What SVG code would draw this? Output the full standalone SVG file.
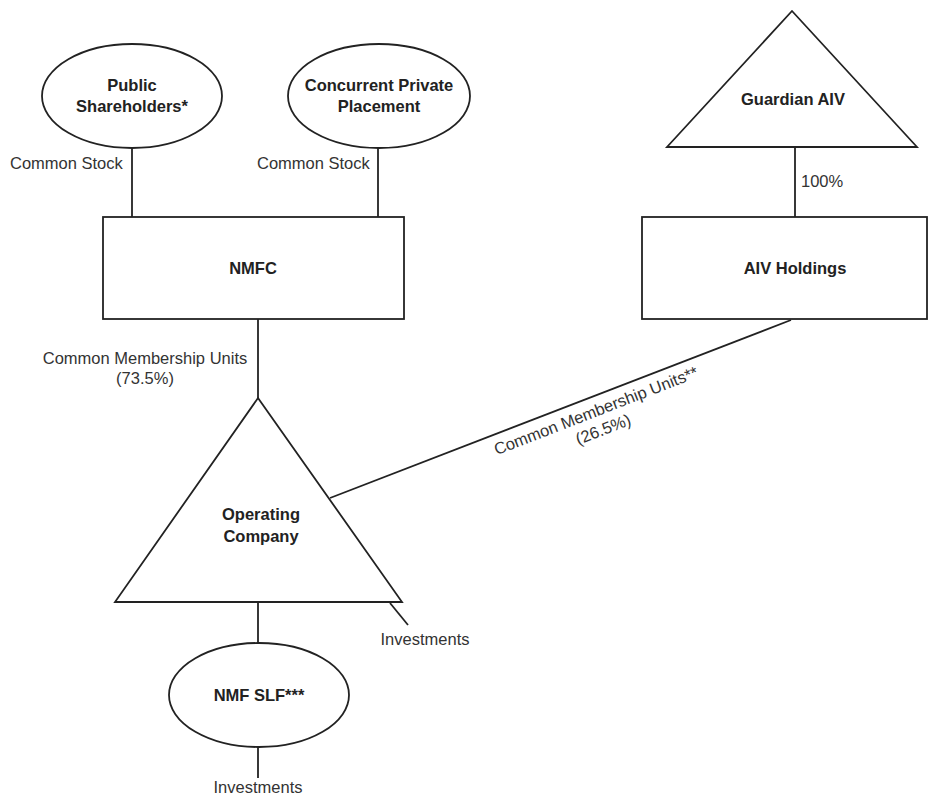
<svg xmlns="http://www.w3.org/2000/svg" width="933" height="795" viewBox="0 0 933 795">
<style>
.s{fill:#fff;stroke:#222;stroke-width:1.8}
.c{fill:none;stroke:#222;stroke-width:1.8}
.b{font-family:"Liberation Sans",Arial,sans-serif;font-weight:bold;font-size:16.5px;fill:#222;text-anchor:middle}
.t{font-family:"Liberation Sans",Arial,sans-serif;font-size:16.5px;fill:#333}
</style>
<rect width="933" height="795" fill="#fff"/>
<g id="connectors">
<line class="c" x1="132" y1="148" x2="132" y2="217"/>
<line class="c" x1="378" y1="148" x2="378" y2="217"/>
<line class="c" x1="795" y1="147" x2="795" y2="217"/>
<line class="c" x1="258" y1="319" x2="258" y2="398"/>
<line class="c" x1="791" y1="320" x2="330" y2="498"/>
<line class="c" x1="258" y1="602" x2="258" y2="643"/>
<line class="c" x1="390" y1="603" x2="408" y2="625"/>
<line class="c" x1="258" y1="747" x2="258" y2="778"/>
<text class="t" x="10" y="169">Common Stock</text>
<text class="t" x="257" y="169">Common Stock</text>
<text class="t" x="801" y="187">100%</text>
<text class="t" x="145" y="364" text-anchor="middle">Common Membership Units</text>
<text class="t" x="145" y="384" text-anchor="middle">(73.5%)</text>
<g transform="translate(598,416) rotate(-21.2)">
<text class="t" x="0" y="0" text-anchor="middle">Common Membership Units**</text>
<text class="t" x="0" y="20" text-anchor="middle">(26.5%)</text>
</g>
<text class="t" x="425" y="645" text-anchor="middle">Investments</text>
<text class="t" x="258" y="793" text-anchor="middle">Investments</text>
</g>
<g id="public">
<ellipse class="s" cx="132" cy="96" rx="90" ry="52"/>
<text class="b" x="132" y="91">Public</text>
<text class="b" x="132" y="112">Shareholders*</text>
</g>
<g id="private">
<ellipse class="s" cx="379" cy="96" rx="91" ry="52"/>
<text class="b" x="379" y="91">Concurrent Private</text>
<text class="b" x="379" y="112">Placement</text>
</g>
<g id="guardian">
<polygon class="s" points="792,11 917,147 667,147"/>
<text class="b" x="793" y="105">Guardian AIV</text>
</g>
<g id="nmfc">
<rect class="s" x="103" y="217" width="301" height="102"/>
<text class="b" x="253" y="274">NMFC</text>
</g>
<g id="aiv">
<rect class="s" x="642" y="217" width="285" height="102"/>
<text class="b" x="795" y="274">AIV Holdings</text>
</g>
<g id="opco">
<polygon class="s" points="258,398 402,602 115,602"/>
<text class="b" x="261" y="520">Operating</text>
<text class="b" x="261" y="542">Company</text>
</g>
<g id="slf">
<ellipse class="s" cx="259" cy="695" rx="90" ry="52"/>
<text class="b" x="259" y="701">NMF SLF***</text>
</g>
</svg>
